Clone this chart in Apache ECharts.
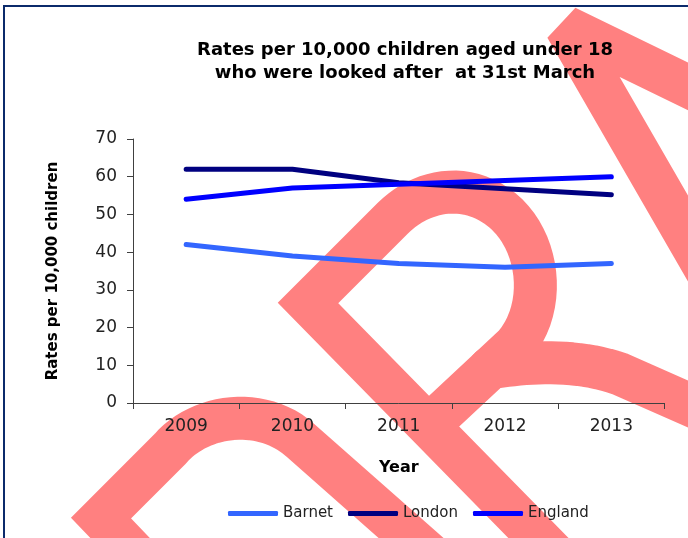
<!DOCTYPE html>
<html>
<head>
<meta charset="utf-8">
<script src="https://cdn.jsdelivr.net/npm/echarts@6/dist/echarts.min.js"></script>
<style>
html,body{margin:0;padding:0;background:#ffffff;}
#chart{width:688px;height:538px;}
</style>
</head>
<body>
<div id="chart"></div>
<script>
// ---- data ----
const years = ['2009', '2010', '2011', '2012', '2013'];
const barnet = [42, 39, 37, 36, 37];
const london = [62, 62, 58.4, 56.8, 55.2];
const england = [54, 57, 58, 59, 60];
const seriesNames = ['Barnet', 'London', 'England'];
const yMin = 0, yMax = 70, yStep = 10;
const titleLines = ['Rates per 10,000 children aged under 18', 'who were looked after  at 31st March'];
const xAxisTitle = 'Year';
const yAxisTitle = 'Rates per 10,000 children';

// ---- decoration helpers (watermark strokes) ----
function bez(p0, c1, c2, p1, n) {
  const pts = [];
  for (let i = 1; i <= n; i++) {
    const t = i / n, u = 1 - t;
    pts.push([
      u*u*u*p0[0] + 3*u*u*t*c1[0] + 3*u*t*t*c2[0] + t*t*t*p1[0],
      u*u*u*p0[1] + 3*u*u*t*c1[1] + 3*u*t*t*c2[1] + t*t*t*p1[1]
    ]);
  }
  return pts;
}
const WM = '#ff8080', WW = 43;
const wmD = [[165,585],[101,518],[170,449]].concat(bez([170,449],[200,414],[262,406],[300,440],24), [[470,590]]);
const wmR = [[560,560],[308,303],[393,218]].concat(bez([393,218],[420,191],[465,180],[502,210],20), bez([502,210],[539,240],[548,305],[515,345],20), [[440,415]]);
const wmLeg = [[490,368]].concat(bez([490,368],[525,362],[575,358],[620,374],20), [[720,418]]);
const wmA = [[720,102],[566,27],[720,294]];

const FONT = '"DejaVu Sans", sans-serif';

const chart = echarts.init(document.getElementById('chart'), null, {renderer: 'canvas'});
chart.setOption({
  animation: false,
  backgroundColor: '#ffffff',
  graphic: [
    {type: 'polyline', z: -5, shape: {points: wmD}, style: {fill: null, stroke: WM, lineWidth: WW, lineJoin: 'miter', lineCap: 'butt'}},
    {type: 'polyline', z: -5, shape: {points: wmR}, style: {fill: null, stroke: WM, lineWidth: WW, lineJoin: 'miter', lineCap: 'butt'}},
    {type: 'polyline', z: -5, shape: {points: wmLeg}, style: {fill: null, stroke: WM, lineWidth: WW, lineJoin: 'round', lineCap: 'round'}},
    {type: 'polyline', z: -5, shape: {points: wmA}, style: {fill: null, stroke: WM, lineWidth: WW, lineJoin: 'bevel', lineCap: 'butt'}},
    {type: 'rect', z: 20, shape: {x: 4, y: 6, width: 720, height: 600}, style: {fill: null, stroke: '#0b2a6b', lineWidth: 2}},
    {type: 'text', z: 20, x: 405, y: 39, style: {text: titleLines.join('\n'), font: 'bold 18px ' + FONT, fill: '#000000', textAlign: 'center', textVerticalAlign: 'top', lineHeight: 23}}
  ],
  grid: {left: 133, right: 23.5, top: 139, bottom: 135, containLabel: false, outerBoundsMode: 'none'},
  legend: {
    data: seriesNames,
    left: 223, top: 501,
    icon: 'roundRect',
    itemWidth: 50, itemHeight: 5, itemGap: 15,
    textStyle: {fontFamily: FONT, fontSize: 15, color: '#222222'}
  },
  xAxis: {
    type: 'category',
    data: years,
    boundaryGap: true,
    name: xAxisTitle,
    nameLocation: 'middle',
    nameGap: 57,
    nameTextStyle: {fontFamily: FONT, fontSize: 16, fontWeight: 'bold', color: '#000000'},
    axisLine: {lineStyle: {color: '#404040', width: 1}},
    axisTick: {show: true, length: 6, inside: false, alignWithLabel: false, lineStyle: {color: '#404040'}},
    axisLabel: {fontFamily: FONT, fontSize: 17, color: '#222222', margin: 15},
    splitLine: {show: false}
  },
  yAxis: {
    type: 'value',
    min: yMin, max: yMax, interval: yStep,
    name: yAxisTitle,
    nameLocation: 'middle',
    nameRotate: 90,
    nameGap: 72,
    nameTextStyle: {fontFamily: FONT, fontSize: 15, fontWeight: 'bold', color: '#000000'},
    axisLine: {show: true, lineStyle: {color: '#404040', width: 1}},
    axisTick: {show: true, length: 6, inside: false, lineStyle: {color: '#404040'}},
    axisLabel: {fontFamily: FONT, fontSize: 17, color: '#222222', margin: 16},
    splitLine: {show: false}
  },
  series: [
    {name: seriesNames[0], type: 'line', data: barnet, symbol: 'none', smooth: false, color: '#3366ff', lineStyle: {width: 5, cap: 'round', join: 'round', color: '#3366ff'}},
    {name: seriesNames[1], type: 'line', data: london, symbol: 'none', smooth: false, color: '#000080', lineStyle: {width: 5, cap: 'round', join: 'round', color: '#000080'}},
    {name: seriesNames[2], type: 'line', data: england, symbol: 'none', smooth: false, color: '#0000ff', lineStyle: {width: 5, cap: 'round', join: 'round', color: '#0000ff'}}
  ]
});
</script>
</body>
</html>
